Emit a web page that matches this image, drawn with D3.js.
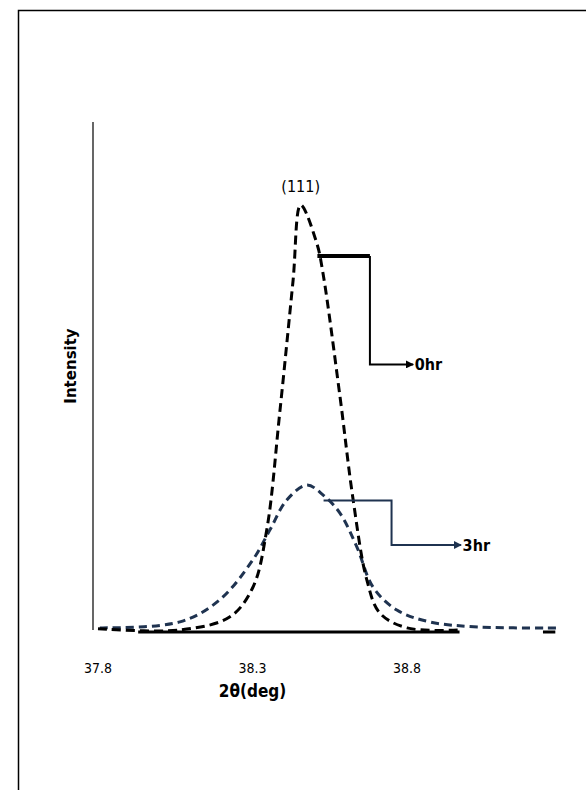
<!DOCTYPE html><html><head><meta charset="utf-8">
<script src="https://cdn.jsdelivr.net/npm/d3@7/dist/d3.min.js"></script>
<style>body{margin:0;background:#fff}</style></head><body><svg id="c" width="586" height="790"></svg>
<script>
const x0hr=[37.8,38.065,38.227,38.301,38.346,38.388,38.431,38.456,38.508,38.528,38.583,38.625,38.670,38.712,38.8,38.97];
const y0hr=[0.3,0,3.1,10,23.5,51,82,100,91,84,55,31,11.8,4,0.5,0];
const x3hr=[37.806,38.065,38.194,38.301,38.356,38.411,38.476,38.528,38.583,38.638,38.690,38.767,38.874,39.036,39.285];
const y3hr=[0.5,1.9,7.1,16.5,23.5,30.6,34.1,31.8,27.5,19.5,10.1,4.7,1.9,0.7,0.5];
const xTicks=[37.8,38.3,38.8];
const svg=d3.select("#c");
const fn="'DejaVu Sans Condensed','Liberation Sans Narrow',sans-serif";
svg.append("rect").attr("x",18.5).attr("y",10.5).attr("width",580).attr("height",800).attr("fill","none").attr("stroke","#000").attr("stroke-width",1.5);
const x=d3.scaleLinear().domain([37.8,38.8]).range([98,407]);
const y=d3.scaleLinear().domain([0,100]).range([630,205]);
svg.append("line").attr("x1",93).attr("x2",93).attr("y1",122).attr("y2",630).attr("stroke","#000").attr("stroke-width",1.2);
svg.append("line").attr("x1",x(37.93)).attr("x2",x(38.97)).attr("y1",632).attr("y2",632).attr("stroke","#000").attr("stroke-width",3);
svg.append("line").attr("x1",x(39.24)).attr("x2",x(39.28)).attr("y1",632).attr("y2",632).attr("stroke","#000").attr("stroke-width",3);
svg.selectAll(".t").data(xTicks).join("text").attr("x",d=>x(d)).attr("y",673).attr("text-anchor","middle")
 .attr("font-family",fn).attr("font-stretch","condensed").attr("font-size",14).text(d=>d.toFixed(1));
svg.append("text").attr("x",x(38.3)).attr("y",697).attr("text-anchor","middle").attr("font-family",fn).attr("font-stretch","condensed").attr("font-weight","bold").attr("font-size",17).text("2θ(deg)");
svg.append("text").attr("transform","translate(76,366) rotate(-90)").attr("text-anchor","middle").attr("font-family","'DejaVu Sans',sans-serif").attr("font-weight","bold").attr("font-size",15).text("Intensity");
const line=d3.line().x(d=>x(d[0])).y(d=>y(d[1])).curve(d3.curveCatmullRom);
svg.append("path").attr("d",line(d3.zip(x3hr,y3hr))).attr("fill","none").attr("stroke","#1f3350").attr("stroke-width",3).attr("stroke-dasharray","8,5");
svg.append("path").attr("d",line(d3.zip(x0hr,y0hr))).attr("fill","none").attr("stroke","#000").attr("stroke-width",3).attr("stroke-dasharray","9,5");
svg.append("text").attr("x",x(38.456)).attr("y",192).attr("text-anchor","middle").attr("font-family",fn).attr("font-stretch","condensed").attr("font-size",16).text("(111)");
const defs=svg.append("defs");
[["a0","#000"],["a3","#1f3350"]].forEach(([id,c])=>defs.append("marker").attr("id",id).attr("viewBox","0 0 10 10").attr("refX",9).attr("refY",5).attr("markerWidth",4).attr("markerHeight",4).attr("orient","auto").append("path").attr("d","M0,0L10,5L0,10z").attr("fill",c));
svg.append("line").attr("x1",x(38.51)).attr("x2",x(38.68)).attr("y1",y(88)).attr("y2",y(88)).attr("stroke","#000").attr("stroke-width",4);
svg.append("path").attr("d",`M${x(38.68)},${y(88)}V${y(62.5)}H${x(38.82)}`).attr("fill","none").attr("stroke","#000").attr("stroke-width",2).attr("marker-end","url(#a0)");
svg.append("text").attr("x",x(38.825)).attr("y",y(62.5)+6).attr("font-family",fn).attr("font-stretch","condensed").attr("font-weight","bold").attr("font-size",16).text("0hr");
svg.append("path").attr("d",`M${x(38.53)},${y(30.5)}H${x(38.75)}V${y(20)}H${x(38.975)}`).attr("fill","none").attr("stroke","#1f3350").attr("stroke-width",2).attr("marker-end","url(#a3)");
svg.append("text").attr("x",x(38.98)).attr("y",y(20)+6).attr("font-family",fn).attr("font-stretch","condensed").attr("font-weight","bold").attr("font-size",16).text("3hr");
</script></body></html>
